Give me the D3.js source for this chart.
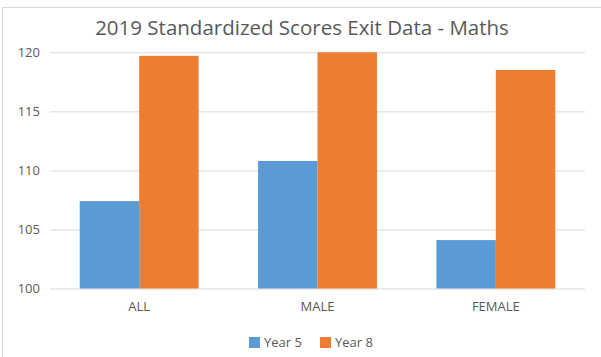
<!DOCTYPE html>
<html><head><meta charset="utf-8">
<script src="https://cdn.jsdelivr.net/npm/d3@7"></script>
<style>body{margin:0;background:#fff}svg{display:block}text{font-family:"Open Sans",sans-serif;fill:#595959}</style>
</head><body><svg id="c" width="601" height="357"></svg>
<script>
const title = "2019 Standardized Scores Exit Data - Maths";
const categories = ["ALL", "MALE", "FEMALE"];
const seriesNames = ["Year 5", "Year 8"];
const year5 = [107.4, 110.8, 104.1];
const year8 = [119.7, 120.0, 118.5];
const yTicks = [100, 105, 110, 115, 120];
const colors = ["#5B9BD5", "#ED7D31"];

const svg = d3.select("#c");
const mLeft = 50, mRight = 585, mTop = 52.3, mBottom = 288.5;
svg.append("rect").attr("x", 2.5).attr("y", 7.5).attr("width", 700).attr("height", 400)
  .attr("fill", "none").attr("stroke", "#D9D9D9");

const x = d3.scaleBand().domain(categories).range([mLeft, mRight]).paddingInner(0).paddingOuter(0);
const y = d3.scaleLinear().domain([100, 120]).range([mBottom, mTop]);
const x1 = d3.scaleBand().domain(seriesNames).range([0, x.bandwidth()]).paddingInner(0).paddingOuter(0.5);

const yAxis = d3.axisLeft(y).tickValues(yTicks).tickSize(-(mRight - mLeft)).tickPadding(10);
const gy = svg.append("g").attr("transform", `translate(${mLeft},0)`).call(yAxis);
gy.select(".domain").remove();
gy.selectAll(".tick line").attr("stroke", "#D9D9D9");
gy.selectAll(".tick text").attr("font-size", 13).attr("x", -10).style("fill", "#595959").attr("font-family", "Open Sans");

const data = categories.map((c, i) => ({ c, vals: [year5[i], year8[i]] }));
const groups = svg.append("g").selectAll("g").data(data).join("g")
  .attr("transform", d => `translate(${x(d.c)},0)`);
groups.selectAll("rect").data(d => d.vals.map((v, j) => ({ v, s: seriesNames[j], j })))
  .join("rect")
  .attr("x", d => x1(d.s)).attr("width", x1.bandwidth())
  .attr("y", d => y(d.v)).attr("height", d => y(100) - y(d.v))
  .attr("fill", d => colors[d.j]);

const xAxis = d3.axisBottom(x).tickSize(0).tickPadding(13);
const gx = svg.append("g").attr("transform", `translate(0,${mBottom})`).call(xAxis);
gx.select(".domain").remove();
gx.selectAll(".tick text").attr("font-size", 13).style("fill", "#595959").attr("font-family", "Open Sans");

svg.append("text").attr("x", 302).attr("y", 35).attr("text-anchor", "middle")
  .attr("font-size", 20.5).text(title);

const legend = svg.append("g");
const lx = [249, 320];
seriesNames.forEach((s, i) => {
  legend.append("rect").attr("x", lx[i]).attr("y", 337).attr("width", 11).attr("height", 11).attr("fill", colors[i]);
  legend.append("text").attr("x", lx[i] + 15).attr("y", 347).attr("font-size", 13).text(s);
});
</script></body></html>
